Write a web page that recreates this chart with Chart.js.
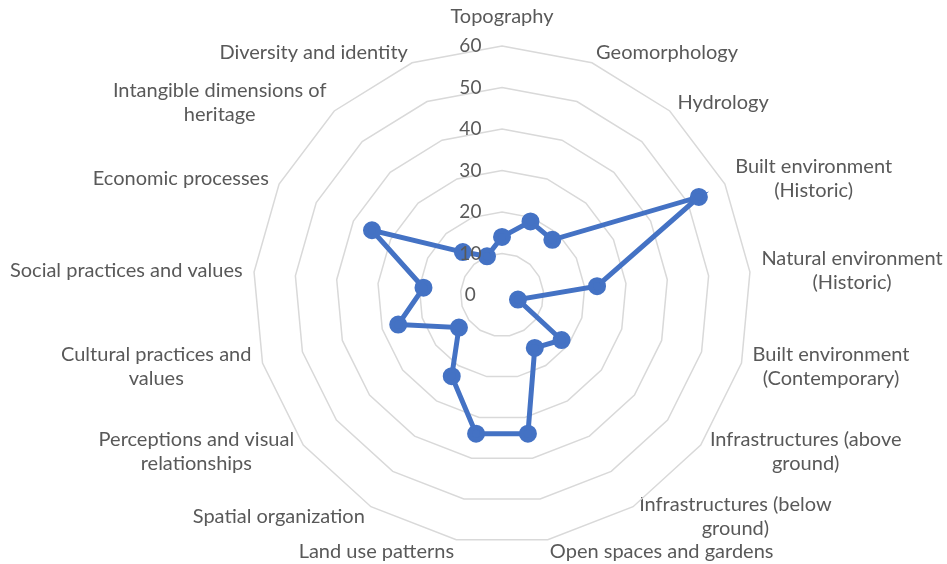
<!DOCTYPE html>
<html>
<head>
<meta charset="utf-8">
<title>Landscape attributes radar</title>
<script src="https://cdn.jsdelivr.net/npm/chart.js@4.4.1/dist/chart.umd.min.js"></script>
<style>
  html, body { margin: 0; padding: 0; background: #fff; }
  #wrap { width: 947px; height: 564px; }
</style>
</head>
<body>
<div id="wrap"><canvas id="chart" width="947" height="564"></canvas></div>
<script>
// categories, clockwise from the top
const categories = [
  "Topography",
  "Geomorphology",
  "Hydrology",
  ["Built environment", "(Historic)"],
  ["Natural environment", "(Historic)"],
  ["Built environment", "(Contemporary)"],
  ["Infrastructures (above", "ground)"],
  ["Infrastructures (below", "ground)"],
  "Open spaces and gardens",
  "Land use patterns",
  "Spatial organization",
  ["Perceptions and visual", "relationships"],
  ["Cultural practices and", "values"],
  "Social practices and values",
  "Economic processes",
  ["Intangible dimensions of", "heritage"],
  "Diversity and identity"
];
const scores = [14, 19, 18, 53, 23, 4, 18, 15, 34, 34, 23, 13, 26, 19, 35, 14, 10];
const tickMin = 0;
const tickMax = 60;
const tickStep = 10;

const textGrey = "#595959";
const gridGrey = "#d9d9d9";
const lineBlue = "#4472C4";

// chart.js shrinks the web to make room for the long labels and hangs the
// labels off the spoke ends; keep the web where the original figure has it
// and centre the labels on their spoke like excel does
class PinnedRadialScale extends Chart.RadialLinearScale {
  static id = "pinnedRadial";

  setCenterPoint() {
    this.xCenter = 502;
    this.yCenter = 295;
    this.drawingArea = 249;
  }

  fit() {
    super.fit();
    for (const item of this._pointLabelItems || []) {
      if (item.textAlign === "center") continue;
      const h = item.bottom - item.top;
      let shift = 0;
      if (item.bottom <= this.yCenter) shift = h / 2;
      else if (item.top >= this.yCenter) shift = -h / 2;
      item.y += shift;
      item.top += shift;
      item.bottom += shift;
      item.x = (item.left + item.right) / 2;
      item.textAlign = "center";
    }
  }
}
Chart.register(PinnedRadialScale);

const ctx = document.getElementById("chart").getContext("2d");
new Chart(ctx, {
  type: "radar",
  data: {
    labels: categories,
    datasets: [{
      label: "Score",
      data: scores,
      borderColor: lineBlue,
      backgroundColor: lineBlue,
      borderWidth: 5,
      pointRadius: 6.5,
      pointHoverRadius: 6.5,
      pointBackgroundColor: lineBlue,
      pointBorderColor: lineBlue,
      fill: false,
      tension: 0
    }]
  },
  options: {
    responsive: false,
    animation: false,
    plugins: {
      legend: { display: false },
      tooltip: { enabled: false }
    },
    scales: {
      r: {
        type: "pinnedRadial",
        min: tickMin,
        max: tickMax,
        angleLines: { display: false },
        grid: { color: gridGrey, lineWidth: 1.5, circular: false },
        // chart.js never prints the first tick, so give it a spare one to skip
        afterBuildTicks: (scale) => { scale.ticks.unshift({ value: tickMin }); },
        ticks: {
          z: 1,
          stepSize: tickStep,
          color: textGrey,
          font: { family: "Lato", size: 19 },
          showLabelBackdrop: false,
          // labels sit left of the axis in the original
          callback: (v) => v + "             "
        },
        pointLabels: {
          color: textGrey,
          padding: (c) => (c.index === 0 ? 6 : 0),
          font: { family: "Lato", size: 20 }
        }
      }
    }
  }
});
</script>
</body>
</html>
